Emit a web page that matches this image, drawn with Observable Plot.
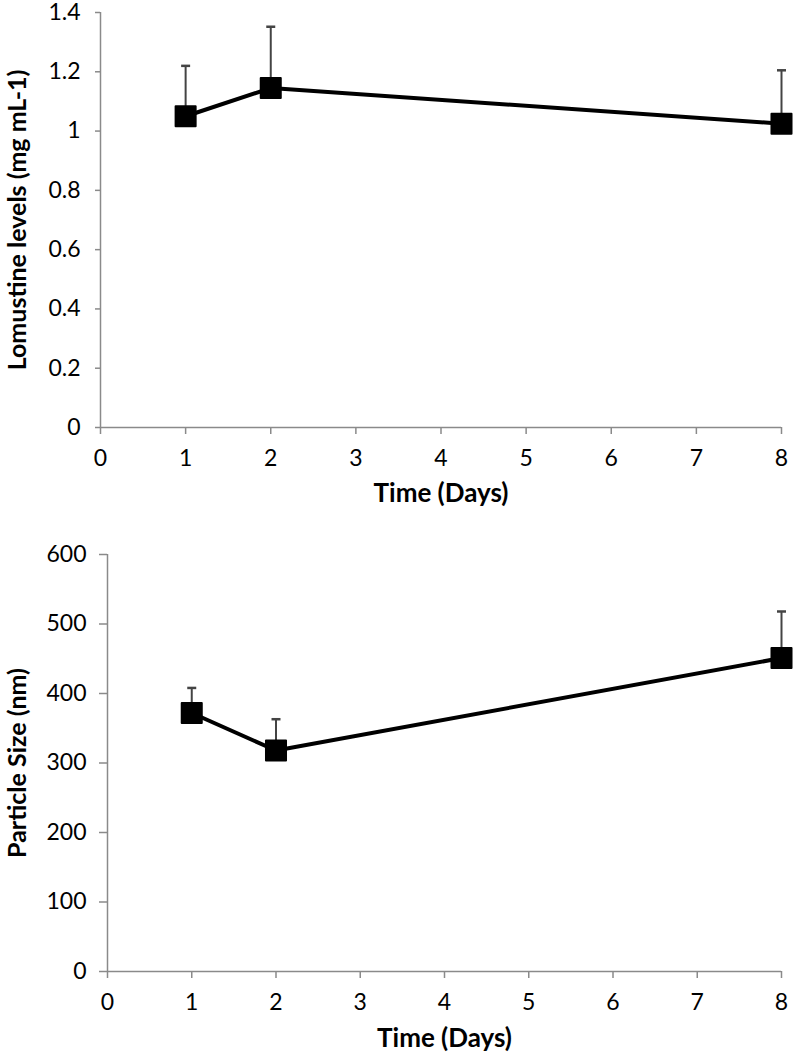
<!DOCTYPE html>
<html>
<head>
<meta charset="utf-8">
<script src="https://cdn.jsdelivr.net/npm/d3@7"></script>
<script src="https://cdn.jsdelivr.net/npm/@observablehq/plot@0.6"></script>
<style>
  html, body { margin: 0; padding: 0; background: #fff; }
  #chart svg { display: block; overflow: visible; }
</style>
</head>
<body>
<div id="chart"></div>
<script>
// ---- data ----
const days = [1, 2, 8];
const lomustine = [1.05, 1.145, 1.025];
const lomustineUpper = [1.22, 1.352, 1.205];
const particleSize = [372, 318, 451];
const particleUpper = [408, 363, 518];

const xTicks = [0, 1, 2, 3, 4, 5, 6, 7, 8];
const yTicksTop = [0, 0.2, 0.4, 0.6, 0.8, 1, 1.2, 1.4];
const yTicksBottom = [0, 100, 200, 300, 400, 500, 600];

const xLabel = "Time (Days)";
const yLabelTop = "Lomustine levels (mg mL-1)";
const yLabelBottom = "Particle Size (nm)";

// ---- helpers ----
const capSymbol = {
  draw(context) {
    context.moveTo(-4.5, 0);
    context.lineTo(4.5, 0);
  }
};

function panel({values, upper, yTicks, yDomain, yLabel, height, marginTop, marginBottom, marginLeft, marginRight, yTickSize, yTickPad, yLabelDx, xLabelDy}) {
  const data = days.map((d, i) => ({day: d, v: values[i], up: upper[i]}));
  return Plot.plot({
    width: 793,
    height,
    marginTop,
    marginBottom,
    marginLeft,
    marginRight,
    style: {fontFamily: "Lato, 'Open Sans', sans-serif", fontSize: "23px", color: "#000", background: "#fff"},
    x: {domain: [0, 8]},
    y: {domain: yDomain},
    marks: [
      Plot.ruleX([0], {stroke: "#8a8a8a", strokeWidth: 1.5}),
      Plot.ruleY([0], {stroke: "#8a8a8a", strokeWidth: 1.5}),
      Plot.axisX(xTicks, {tickSize: 7, tickPadding: 15, stroke: "#8a8a8a", strokeWidth: 1.5, fill: "#000", label: null, tickFormat: d3.format("d")}),
      Plot.axisY(yTicks, {tickSize: yTickSize, tickPadding: yTickPad, stroke: "#8a8a8a", strokeWidth: 1.5, fill: "#000", label: null, tickFormat: d3.format("~g")}),
      Plot.ruleX(data, {x: "day", y1: "v", y2: "up", stroke: "#444", strokeWidth: 2}),
      Plot.dot(data, {x: "day", y: "up", symbol: capSymbol, stroke: "#444", strokeWidth: 2.5, fill: "none", r: 5}),
      Plot.line(data, {x: "day", y: "v", stroke: "#000", strokeWidth: 4}),
      Plot.dot(data, {x: "day", y: "v", symbol: "square", r: 11.3, fill: "#000", stroke: "#000", strokeWidth: 2, strokeLinejoin: "round"}),
      Plot.text([xLabel], {frameAnchor: "bottom", textAnchor: "middle", lineAnchor: "middle", dy: xLabelDy, fontWeight: "bold", fontSize: 26}),
      Plot.text([yLabel], {frameAnchor: "left", textAnchor: "middle", rotate: -90, dx: yLabelDx, lineAnchor: "middle", fontWeight: "bold", fontSize: 25})
    ]
  });
}

const topPanel = panel({
  values: lomustine, upper: lomustineUpper, yTicks: yTicksTop, yDomain: [0, 1.4], yLabel: yLabelTop,
  height: 520, marginTop: 12, marginBottom: 93, marginLeft: 100, marginRight: 12,
  yTickSize: 5, yTickPad: 15, yLabelDx: -83, xLabelDy: 66
});
const bottomPanel = panel({
  values: particleSize, upper: particleUpper, yTicks: yTicksBottom, yDomain: [0, 600], yLabel: yLabelBottom,
  height: 532, marginTop: 34, marginBottom: 81, marginLeft: 107, marginRight: 12,
  yTickSize: 8, yTickPad: 13, yLabelDx: -90, xLabelDy: 67
});
document.getElementById("chart").append(topPanel, bottomPanel);
</script>
</body>
</html>
